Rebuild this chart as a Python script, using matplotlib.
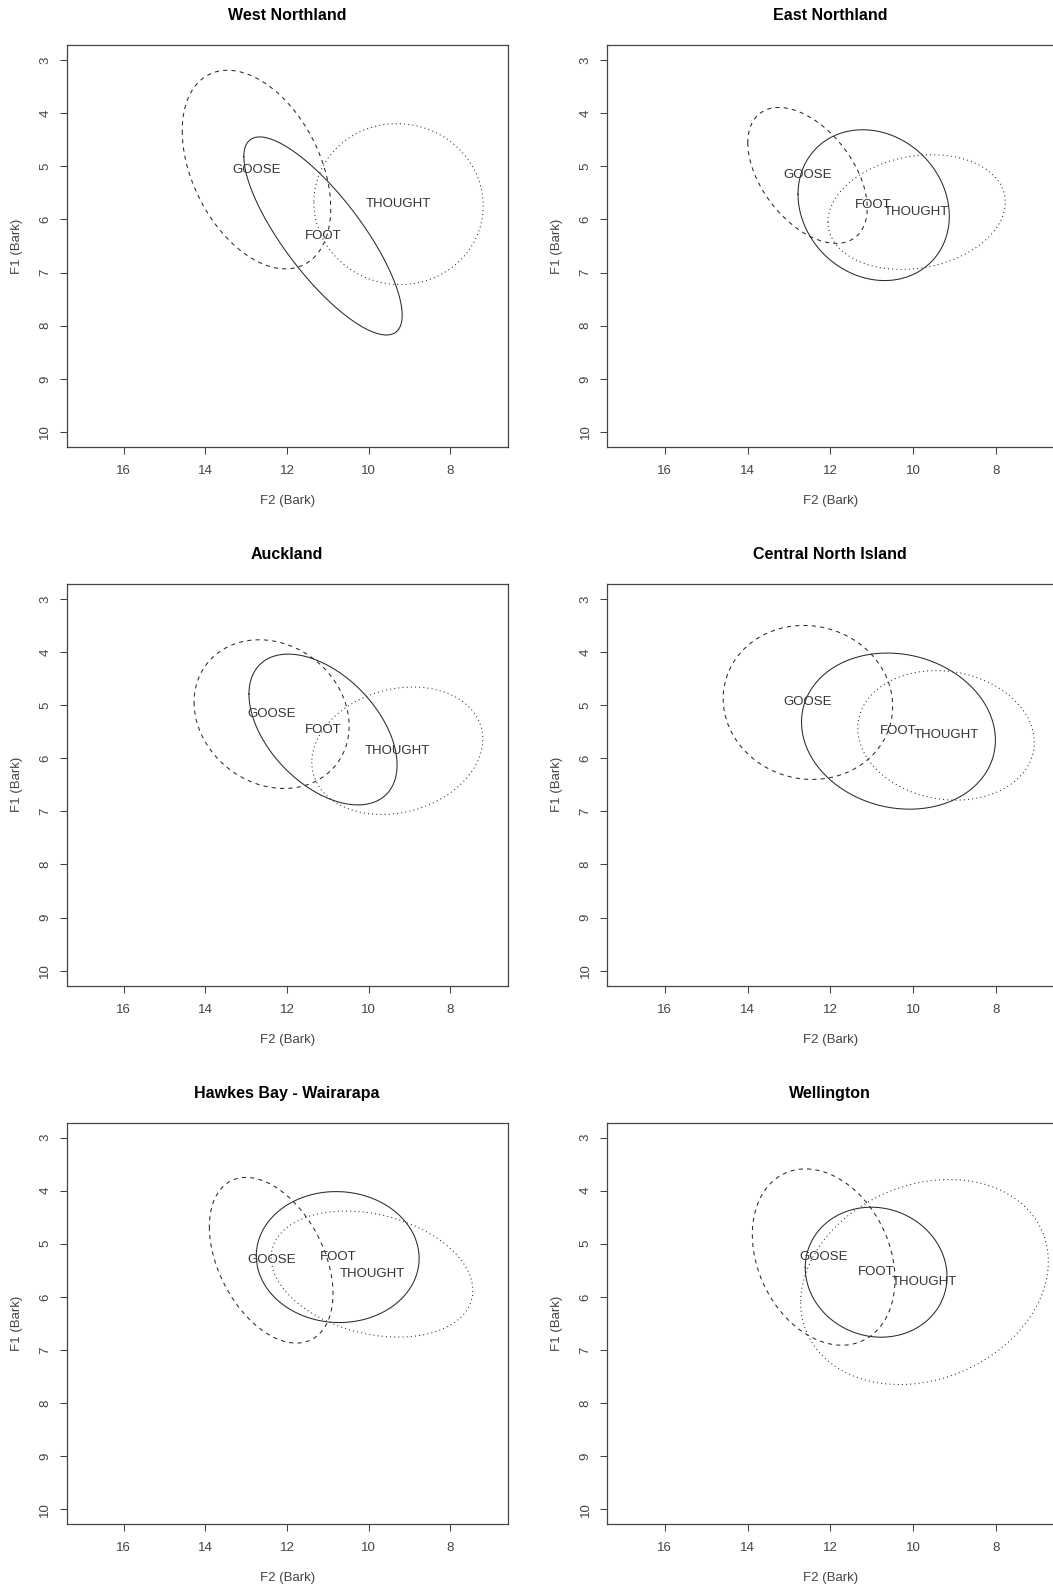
import numpy as np
import matplotlib
matplotlib.use("Agg")
import matplotlib.pyplot as plt

plt.rcParams['font.family'] = ['Liberation Sans', 'DejaVu Sans']

regions = ["West Northland", "East Northland", "Auckland",
           "Central North Island", "Hawkes Bay - Wairarapa", "Wellington"]
vowels = ["GOOSE", "FOOT", "THOUGHT"]
line_styles = [(0, (4, 4)), "solid", (0, (1, 3))]

# ellipse centres (one row per vowel, one column per region)
centre_f2 = [[12.75, 12.55, 12.38, 12.54, 12.39, 12.16],
             [11.12, 10.95, 11.12, 10.35, 10.76, 10.89],
             [9.27, 9.91, 9.30, 9.20, 9.92, 9.72]]
centre_f1 = [[5.06, 5.17, 5.17, 4.95, 5.31, 5.25],
             [6.31, 5.73, 5.46, 5.49, 5.25, 5.535],
             [5.71, 5.86, 5.86, 5.57, 5.57, 5.72]]
# half widths / half heights of the ellipses
spread_f2 = [[1.82, 1.445, 1.90, 2.05, 1.515, 1.725],
             [1.94, 1.83, 1.815, 2.345, 1.995, 1.715],
             [2.075, 2.145, 2.095, 2.135, 2.47, 2.995]]
spread_f1 = [[1.87, 1.28, 1.40, 1.45, 1.56, 1.66],
             [1.865, 1.42, 1.42, 1.47, 1.233, 1.224],
             [1.515, 1.08, 1.20, 1.22, 1.187, 1.93]]
corr = [[-0.39, -0.48, -0.16, -0.05, -0.405, -0.255],
        [-0.80, -0.145, -0.47, -0.115, -0.02, -0.07],
        [-0.02, 0.17, 0.18, -0.11, -0.26, 0.20]]

x_ticks = [16, 14, 12, 10, 8]
y_ticks = [3, 4, 5, 6, 7, 8, 9, 10]

W, H = 1053, 1591
fig = plt.figure(figsize=(W / 100, H / 100), dpi=100)

col_left = [66.7, 607.0]
col_width = [440.8, 446.5]
row_top = [45.3, 584.0, 1122.7]
row_h = 401.5

t = np.linspace(0, 2 * np.pi, 300)

for i, name in enumerate(regions):
    r, c = divmod(i, 2)
    ax = fig.add_axes([col_left[c] / W, 1 - (row_top[r] + row_h) / H,
                       col_width[c] / W, row_h / H])
    for v in range(len(vowels)):
        cx, cy = centre_f2[v][i], centre_f1[v][i]
        sx, sy = spread_f2[v][i], spread_f1[v][i]
        d = np.arccos(corr[v][i])
        ax.plot(cx + sx * np.cos(t), cy + sy * np.cos(t - d),
                color='#2a2a2a', lw=0.75, linestyle=line_styles[v])
        ax.text(cx, cy, vowels[v], ha='center', va='center',
                fontsize=9.5, color='#333333')

    ax.set_xlim(17.4, 6.6)
    ax.set_ylim(10.28, 2.72)
    ax.set_xticks(x_ticks)
    ax.set_yticks(y_ticks)
    ax.tick_params(axis='both', length=5, width=0.75, color='#444444',
                   labelcolor='#444444', labelsize=9.5)
    ax.tick_params(axis='x', pad=8)
    ax.tick_params(axis='y', pad=6)
    for lab in ax.get_yticklabels():
        lab.set_rotation(90)
        lab.set_va('center')
    for sp in ax.spines.values():
        sp.set_color('#444444')
        sp.set_linewidth(0.9)

    ax.set_xlabel("F2 (Bark)", fontsize=9.5, color='#444444', va='center')
    ax.xaxis.set_label_coords(0.5, -54 / row_h)
    ax.set_ylabel("F1 (Bark)", fontsize=9.5, color='#444444', va='center')
    ax.yaxis.set_label_coords(-50 / col_width[c], 0.5)
    ax.set_title(name, fontsize=11.5, fontweight='bold', y=1 + 29.3 / row_h,
                 va='center', pad=0)

fig.savefig("out.png", dpi=100)
